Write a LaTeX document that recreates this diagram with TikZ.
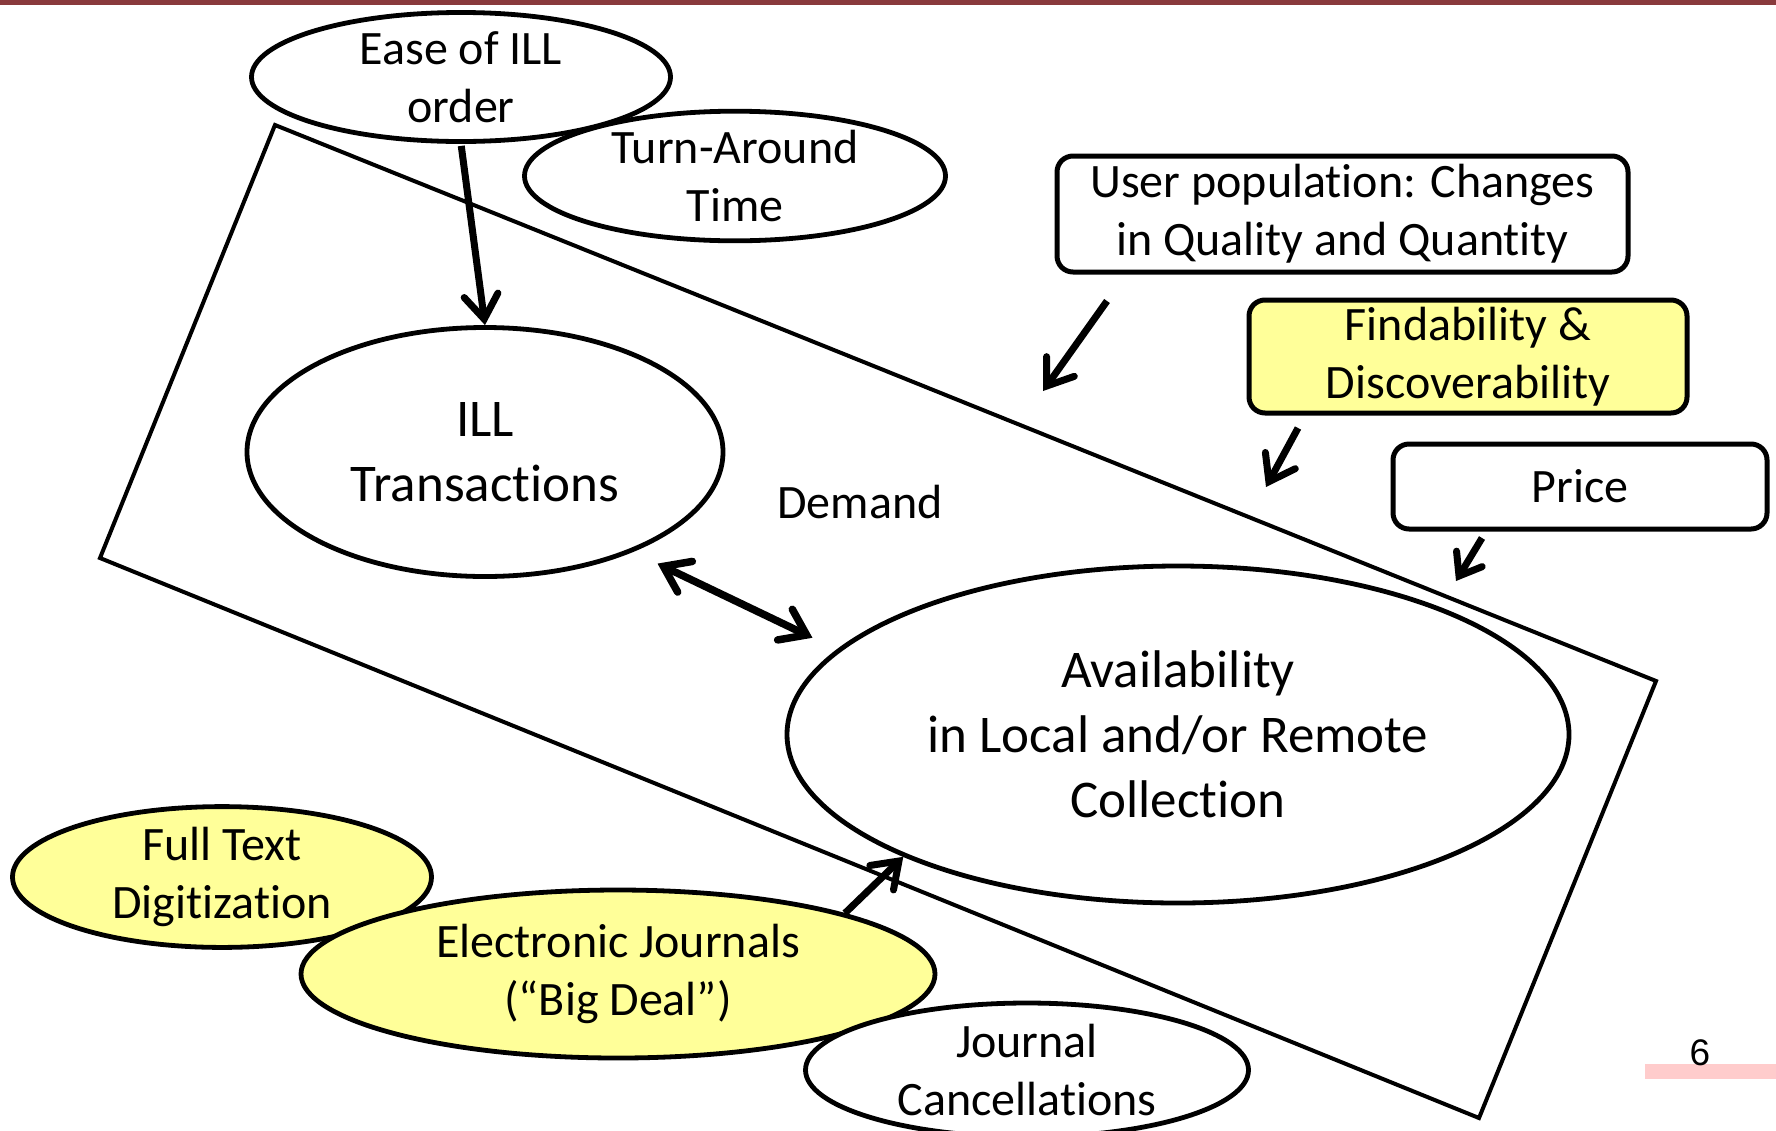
\documentclass[tikz,border=0pt]{standalone}
\usepackage{fontspec}
\setmainfont{Carlito}[Ligatures={NoCommon,NoRequired,NoContextual},Contextuals=NoAlternate]
\newfontfamily\numfont{Liberation Sans}
\usetikzlibrary{shapes.geometric,arrows.meta}
\definecolor{barred}{RGB}{137,58,60}
\definecolor{lightyel}{RGB}{255,255,153}
\definecolor{pinkbar}{RGB}{255,204,204}
\newcommand{\nolig}{\kern0pt}
\begin{document}
\begin{tikzpicture}[x=1pt,y=-1pt,
  ell/.style={ellipse,draw,line width=4.8pt,inner sep=0pt,align=center,font=\fontsize{48}{58}\selectfont},
  bigell/.style={ell,font=\fontsize{53}{65}\selectfont},
  rbox/.style={rectangle,rounded corners=16pt,draw,line width=5pt,inner sep=0pt,align=center,font=\fontsize{48}{58}\selectfont},
  barb/.tip={Straight Barb[length=24pt,width=34pt,line cap=round,line join=miter]},
  smallbarb/.tip={Straight Barb[length=20pt,width=30pt,line cap=round,line join=miter]},
  arr/.style={line width=7pt,-barb},
  darr/.style={line width=7.5pt,barb-barb},
  yel/.style={fill=lightyel},
  wht/.style={fill=white}]
\useasboundingbox (0,0) rectangle (1776,1130);
\begin{scope}
\clip (0,0) rectangle (1776,1130);
% top bar and page marker
\fill[barred] (0,0) rectangle (1776,5);
\fill[pinkbar] (1645,1064) rectangle (1776,1079);
\node[font=\numfont\fontsize{37}{44}\selectfont,inner sep=0pt] (pnum) at (1700,1053) {6};
% frame
\draw[line width=4pt] (275,125) -- (1656,681) -- (1479,1118) -- (100,558) -- cycle;
% ellipses
\node[ell,wht,minimum width=421pt,minimum height=125pt] (turn) at (735,176) {Turn-Around\\Time};
\node[ell,wht,minimum width=419pt,minimum height=127pt] (ease) at (461,77) {Ease of ILL\\order};
\node[bigell,minimum width=476pt,minimum height=249pt] (ill) at (485,452) {ILL\\Transact\nolig ions};
\node[bigell,minimum width=782pt,minimum height=337pt] (avail) at (1178,734.5) {Availability\\in Local and/or Remote\\Collect\nolig ion};
\node[font=\fontsize{48}{58}\selectfont,inner sep=0pt] (demand) at (860,502) {Demand};
\node[ell,yel,minimum width=419pt,minimum height=131pt] (full) at (222,877) {Full Text\\Digit\nolig izat\nolig ion};
\node[ell,yel,minimum width=634pt,minimum height=168pt] (ej) at (618,974) {Electronic Journals\\(“Big Deal”)};
\node[ell,wht,minimum width=443pt,minimum height=134pt] (jc) at (1027,1070) {Journal\\Cancellat\nolig ions};
% boxes
\node[rbox,minimum width=571pt,minimum height=116pt] (user) at (1342.5,214) {User populat\nolig ion: Changes\\in Quality and Quant\nolig ity};
\node[rbox,yel,minimum width=438pt,minimum height=113pt] (find) at (1468,356.5) {Findability \&\\Discoverability};
\node[rbox,minimum width=374pt,minimum height=85pt] (price) at (1580,486.5) {Price};
% free arrow ends
\coordinate (u1) at (1107,301);
\coordinate (u2) at (1043,391);
\coordinate (f1) at (1298,428);
\coordinate (f2) at (1266,487);
\coordinate (p1) at (1482,538);
\coordinate (p2) at (1456,581);
% connectors
\draw[arr,shorten <=2pt] (ease.south) -- (ill.north);
\draw[darr,shorten <=27pt,shorten >=27pt] (ill.-34) -- (avail.166.6);
\draw[arr] (ej.15) -- (avail.204);
\draw[arr] (u1) -- (u2);
\draw[arr] (f1) -- (f2);
\draw[arr,-smallbarb] (p1) -- (p2);
\end{scope}
\end{tikzpicture}
\end{document}
